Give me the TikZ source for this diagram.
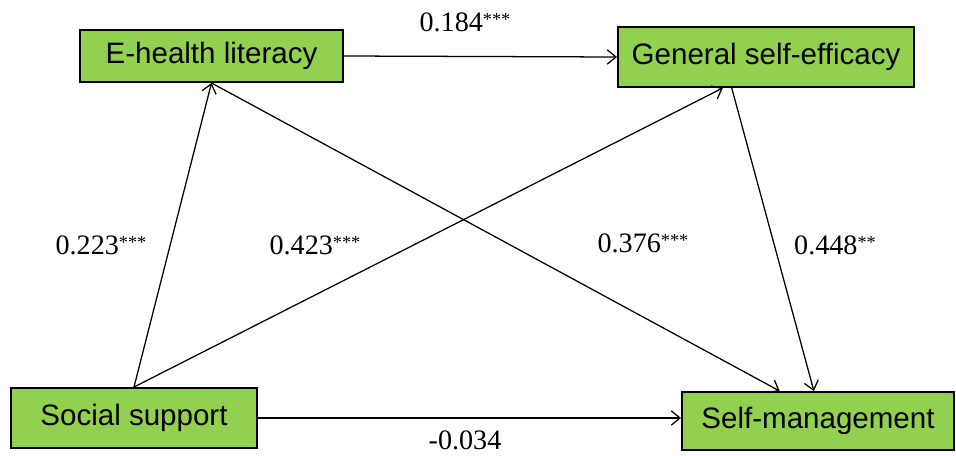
\documentclass[tikz,border=0pt]{standalone}
\usepackage{fontspec}
\setmainfont{Liberation Serif}
\setsansfont{Liberation Sans}
\usetikzlibrary{calc, arrows.meta}
\definecolor{boxgreen}{HTML}{92D050}
\newcommand{\sig}[1]{\raisebox{4pt}{\fontsize{13}{13}\selectfont #1}}

\begin{document}
\begin{tikzpicture}[x=0.025cm, y=-0.025cm, >={Straight Barb[length=2.2mm, width=3.6mm]},
	box/.style={draw, rectangle, line width=1.4pt, fill=boxgreen, font=\sffamily\fontsize{21}{25}\selectfont, inner sep=0pt},
	lbl/.style={font=\fontsize{20}{24}\selectfont},
	path/.style={->, line width=0.9pt}]
	\useasboundingbox (0, 0) rectangle (956, 455);
	\node[box, minimum width=263*0.025cm, minimum height=52*0.025cm] (ehl) at (211.5, 56) {E-health literacy};
	\node[box, minimum width=296*0.025cm, minimum height=60*0.025cm] (gse) at (766, 57) {General self-efficacy};
	\node[box, minimum width=246*0.025cm, minimum height=60*0.025cm] (ss) at (134, 418) {Social support};
	\node[box, minimum width=272*0.025cm, minimum height=58*0.025cm] (sm) at (818, 421) {Self-management};

	\node[lbl] (l1) at (465, 22) {0.184\sig{***}};
	\node[lbl] (l2) at (101, 245) {0.223\sig{***}};
	\node[lbl] (l3) at (315, 245) {0.423\sig{***}};
	\node[lbl] (l4) at (643, 243) {0.376\sig{***}};
	\node[lbl] (l5) at (835, 245) {0.448\sig{**}};
	\node[lbl] (l6) at (465, 440) {-0.034};

	\draw[path] (ehl.east) -- (gse.west);
	\draw[path] (ss.north) -- (ehl.south);
	\draw[path] (ss.north) -- ($(gse.south west)!0.355!(gse.south east)$);
	\draw[path] (ehl.south) -- ($(sm.north west)!0.36!(sm.north east)$);
	\draw[path] ($(gse.south west)!0.385!(gse.south east)$) -- ($(sm.north west)!0.485!(sm.north east)$);
	\draw[path] (ss.east) -- (ss.east -| sm.west);
\end{tikzpicture}
\end{document}
